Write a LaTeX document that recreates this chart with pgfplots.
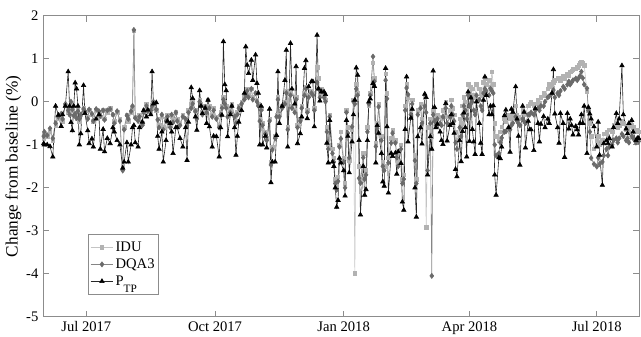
\documentclass[border=0pt]{standalone}
\usepackage{fontspec}
\setmainfont{Liberation Serif}
\usepackage{pgfplots}
\pgfplotsset{compat=1.18}
\usepackage{pgfplotstable}

\definecolor{idumark}{HTML}{B2B2B2}
\definecolor{iduline}{HTML}{C4C4C4}
\definecolor{dqamark}{HTML}{6A6A6A}
\definecolor{dqaline}{HTML}{858585}
\definecolor{axcol}{HTML}{8C8C8C}

\newcommand\tickfont{\fontsize{11}{13}\selectfont}
\newcommand\labfont{\fontsize{13}{15}\selectfont}

% day = days since 1 Jul 2017; values are changes from baseline in %
\pgfplotstableread{
day ptp idu dqa
-30.5 -0.97 -0.85 -0.80
-30 -1.00 -0.75 -0.70
-28 -1.00 -0.80 -0.78
-26 -1.04 -0.70 -0.62
-24 -1.28 -0.90 -0.85
-22 -0.10 -0.55 -0.50
-20 -0.31 -0.40 -0.35
-18 -0.57 -0.30 -0.28
-17 -0.30 -0.45 -0.40
-15 -0.10 -0.10 -0.05
-13 0.70 -0.25 -0.20
-12 -0.10 -0.30 -0.30
-11 -0.48 -0.05 0.00
-10 -0.67 -0.20 -0.18
-9 -0.10 -0.35 -0.32
-8 0.44 -0.30 -0.28
-7 0.30 -0.40 -0.38
-6 -0.10 -0.20 -0.22
-5 -1.00 -0.45 -0.40
-4 -0.74 -0.30 -0.30
-2 0.38 -0.15 -0.17
-1 -0.27 -0.25 -0.22
1 -0.67 -0.35 -0.40
2 -0.97 -0.20 -0.18
4 -0.86 -0.30 -0.28
5 -1.05 -0.45 -0.45
7 -0.40 -0.20 -0.17
9 -0.30 -0.25 -0.22
10 -1.10 -0.35 -0.33
12 -0.64 -0.20 -0.20
13 -1.16 -0.40 -0.42
15 -0.85 -0.25 -0.20
17 -0.97 -0.15 -0.17
19 -0.60 -0.30 -0.30
20 -0.70 -0.45 -0.50
22 -0.90 -0.25 -0.22
24 -1.00 -0.40 -0.45
26 -1.54 -1.50 -1.60
27 -1.40 -0.60 -0.65
29 -0.95 -0.30 -0.32
30 -1.40 -0.45 -0.40
32 -1.00 -0.25 -0.22
33 -0.60 -0.15 -0.10
34 -0.55 1.65 1.67
35 -0.95 -0.35 -0.38
37 -1.05 -0.40 -0.45
38 -0.60 -0.30 -0.35
40 -0.47 -0.50 -0.55
41 -0.20 -0.20 -0.25
43 -0.35 -0.05 -0.10
44 -0.19 -0.20 -0.22
46 -0.30 -0.25 -0.20
47 0.70 -0.15 -0.10
48 -0.05 -0.05 0.00
50 -0.02 -0.20 -0.18
51 -0.80 -0.40 -0.42
52 -1.10 -0.55 -0.60
54 -0.70 -0.35 -0.30
55 -1.40 -0.60 -0.65
57 -0.90 -0.40 -0.45
58 -0.45 -0.30 -0.35
60 -0.50 -0.55 -0.60
61 -0.70 -0.35 -0.30
62 -1.20 -0.45 -0.48
64 -0.60 -0.25 -0.25
65 -0.60 -0.40 -0.45
67 -0.85 -0.50 -0.55
69 -1.05 -0.30 -0.35
71 -0.60 -0.45 -0.40
72 -1.36 -0.50 -0.55
73 -0.47 -0.20 -0.25
75 0.33 -0.10 -0.15
76 0.08 0.00 -0.05
78 -0.35 -0.20 -0.22
79 -0.66 -0.35 -0.40
81 0.26 0.05 0.00
82 -0.10 -0.05 -0.10
83 -0.27 -0.25 -0.30
85 -0.15 -0.10 -0.12
86 -0.50 -0.20 -0.25
87 0.04 0.05 0.02
88 -0.58 -0.10 -0.15
90 -1.05 -0.30 -0.35
91 -0.80 -0.15 -0.20
93 -0.81 -0.35 -0.40
95 -1.28 -0.55 -0.60
96 -0.60 -0.25 -0.30
97 -0.31 -0.10 -0.15
98 1.40 0.10 0.05
99 0.40 0.00 -0.05
100 0.26 -0.10 -0.15
101 -0.81 -0.30 -0.35
103 -0.30 -0.20 -0.25
104 -0.10 -0.05 -0.10
106 -0.60 -0.30 -0.35
107 -1.24 -0.45 -0.50
108 -0.80 -0.25 -0.30
109 -0.47 -0.10 -0.15
111 -0.20 0.00 -0.05
113 0.20 0.10 0.05
114 1.28 0.20 0.15
115 0.85 0.30 0.25
116 0.66 0.15 0.10
118 0.97 0.30 0.30
119 0.50 0.10 0.05
121 1.09 0.20 0.20
122 0.43 0.05 0.00
123 0.20 -0.05 -0.10
124 -1.00 -0.40 -0.45
125 -0.10 -0.15 -0.20
126 -1.00 -0.50 -0.55
128 -0.80 -0.70 -0.75
129 -1.07 -0.85 -0.90
131 -0.17 -0.40 -0.45
132 -1.88 -1.40 -1.47
133 -1.40 -1.05 -1.12
135 -1.40 -0.80 -0.85
136 -0.78 -0.30 -0.35
137 0.70 0.10 0.05
138 -0.50 -0.30 -0.35
140 -0.10 -0.10 -0.15
142 0.50 0.00 -0.05
143 1.20 0.25 0.20
144 -1.05 -0.60 -0.65
146 1.36 0.20 0.15
147 0.30 -0.10 -0.15
149 -0.05 -0.20 -0.25
150 0.82 0.10 0.05
151 -0.97 -0.55 -0.60
153 -0.74 -0.40 -0.45
154 -0.35 -0.10 -0.15
156 0.78 0.20 0.15
157 0.96 0.35 0.30
158 -0.39 -0.20 -0.25
159 0.35 0.15 0.10
161 0.47 0.25 0.20
162 0.47 0.20 0.15
163 -0.58 -0.15 -0.20
165 1.55 0.80 0.45
166 0.30 0.55 0.30
167 0.02 0.20 0.10
168 0.23 0.30 0.25
170 0.23 0.15 0.10
171 0.17 0.05 0.00
172 -0.96 -0.60 -0.70
173 -1.42 -1.00 -1.10
174 -0.43 -0.30 -0.35
176 -1.40 -1.10 -1.20
177 -1.50 -1.30 -1.40
178 -2.00 -1.80 -1.90
179 -2.45 -1.95 -2.05
180 -2.29 -1.75 -1.85
181 -1.31 -1.00 -1.05
182 -1.42 -0.70 -0.86
184 -1.60 -1.30 -1.40
185 -2.19 -1.90 -2.00
186 -0.43 -0.20 -0.25
187 -0.80 -0.60 -0.73
188 -1.65 -1.36 -1.30
190 -0.93 -0.65 -0.58
191 -0.30 0.05 0.00
192 0.04 -3.99 -0.05
193 0.79 0.40 0.30
194 0.62 0.20 0.15
195 -0.90 -1.50 -1.78
196 -2.63 -1.80 -1.89
198 -1.50 -1.20 -1.30
199 -2.17 -1.70 -1.80
200 -2.04 -1.60 -1.70
201 -0.90 -0.60 -0.70
202 0.00 -0.10 -0.05
203 0.07 0.20 0.15
205 0.43 0.90 1.05
206 0.36 0.55 0.47
207 -1.42 -0.95 -1.04
208 -0.55 -0.50 -0.62
209 -0.73 -0.05 -0.12
211 -1.20 -0.80 -0.90
212 -1.86 -1.40 -1.50
213 -1.96 -1.50 -1.60
214 0.78 0.65 0.50
215 -0.58 0.20 0.07
216 -2.12 -1.30 -1.42
218 -1.20 -0.85 -0.96
219 -1.27 -0.65 -0.73
221 -1.19 -0.90 -0.96
222 -1.68 -1.20 -1.30
223 -1.16 -1.40 -1.50
225 -1.43 -1.00 -1.10
226 -2.33 -1.80 -1.90
227 -2.52 -1.70 -1.80
228 -0.64 -0.10 -0.20
229 0.58 0.40 0.32
230 -0.93 0.10 0.17
232 -0.38 -0.20 -0.30
233 -0.17 0.05 -0.05
235 -2.00 -1.25 -1.37
236 -2.68 -1.80 -1.90
237 -0.81 -0.20 -0.30
239 -0.60 -0.05 -0.15
240 -0.98 -0.40 -0.50
242 0.18 0.10 -0.10
243 0.10 -2.92 -0.25
244 -1.70 -0.60 -1.60
246 -0.81 -0.40 -0.50
247 -1.10 -0.80 -4.05
248 0.72 -0.20 -0.30
249 -0.13 -0.30 -0.45
250 -0.60 -0.40 -0.55
251 -0.52 -0.30 -0.40
253 -0.70 -0.35 -0.50
254 -0.90 -0.40 -0.55
255 -0.99 -0.20 -0.35
257 -0.04 0.00 -0.15
258 -0.91 -0.35 -0.50
260 -0.55 -0.20 -0.35
261 -0.30 0.05 -0.10
262 -0.50 -0.15 -0.30
263 -0.73 -0.30 -0.45
264 -1.57 -0.70 -0.95
265 -1.74 -0.90 -1.10
267 -0.90 -0.40 -0.60
268 -1.39 -0.50 -0.80
269 -0.69 -0.10 -0.30
270 -0.26 0.10 -0.10
271 -0.60 0.00 -0.20
272 -1.28 -0.20 -0.40
273 0.23 0.40 0.15
274 -0.92 0.20 -0.10
275 0.09 0.35 0.10
276 -0.64 0.30 0.00
277 -0.93 0.15 -0.20
278 -1.22 0.10 -0.30
279 0.00 0.40 0.15
281 -0.50 0.30 0.05
282 -0.96 0.20 -0.10
283 -1.22 0.15 -0.20
284 0.04 0.45 0.20
285 0.58 0.55 0.30
286 0.15 0.40 0.25
288 -0.30 0.50 0.15
289 -0.10 0.35 0.30
290 -0.30 0.70 0.25
291 -0.09 0.40 0.20
292 -1.70 -0.50 -1.00
293 -2.17 -0.80 -1.25
295 -1.30 -0.90 -1.20
296 -1.32 -0.70 -0.95
297 -1.05 -0.58 -0.84
299 -0.32 -0.40 -0.70
300 -0.19 -0.47 -0.69
302 -0.60 -0.30 -0.60
303 -1.17 -0.40 -0.65
304 -0.17 -0.36 -0.55
305 -0.24 -0.30 -0.50
307 0.35 -0.10 -0.35
308 -0.40 -0.30 -0.45
309 -0.80 -0.36 -0.50
310 -1.47 -0.40 -0.55
312 -0.10 -0.20 -0.40
313 -0.24 -0.25 -0.45
314 -1.07 -0.30 -0.50
316 -0.45 -0.10 -0.30
317 -0.65 -0.05 -0.30
318 -0.65 0.00 -0.25
320 -1.13 -0.10 -0.30
321 -0.16 -0.05 -0.20
323 -0.50 0.05 -0.15
324 -0.93 -0.04 -0.20
325 -0.52 0.10 -0.10
327 -0.34 0.20 -0.10
328 -0.60 0.15 0.00
330 -0.40 0.30 0.10
331 -0.50 0.40 0.13
333 0.20 0.35 0.20
334 0.75 0.45 0.27
335 -0.28 0.50 0.10
337 -0.60 0.55 0.20
338 -0.96 0.54 0.15
339 -0.27 0.50 0.25
341 -0.50 0.60 0.35
342 -1.29 0.55 0.30
344 -0.27 0.65 0.40
345 -0.63 0.60 0.47
346 -0.40 0.70 0.40
347 -0.55 0.72 0.45
348 -0.77 0.75 0.50
350 -0.57 0.77 0.54
351 -0.65 0.80 0.50
352 -0.77 0.85 0.55
353 -0.50 0.90 0.60
354 -0.30 0.93 0.70
355 -0.50 0.89 0.55
356 -0.10 0.85 0.40
358 -1.20 0.23 0.31
359 -0.13 -0.20 -0.20
360 -0.28 -0.50 -0.70
361 -0.40 -0.80 -1.31
363 -0.58 -1.10 -1.45
365 -1.05 -0.90 -1.51
366 -0.47 -0.80 -1.30
367 -1.24 -1.00 -1.45
369 -1.94 -0.90 -1.40
370 -0.97 -0.75 -1.25
372 -0.90 -0.70 -1.10
373 -0.97 -0.80 -1.25
374 -0.85 -0.65 -1.05
376 -1.05 -0.70 -1.00
377 -0.60 -0.55 -0.90
379 -0.27 -0.50 -0.85
380 -0.50 -0.60 -0.95
381 -0.40 -0.55 -0.85
383 0.84 -0.45 -0.75
384 -0.30 -0.50 -0.80
386 -0.63 -0.65 -0.90
387 -0.74 -0.60 -0.85
388 -0.50 -0.70 -0.95
390 -0.43 -0.55 -0.80
391 -0.70 -0.60 -0.85
393 -0.90 -0.70 -0.95
394 -0.85 -0.65 -0.90
395 -0.85 -0.70 -0.92
}\qadata

\begin{document}
\begin{tikzpicture}
\begin{axis}[
  scale only axis,
  width=447bp, height=225.75bp,
  xmin=-31, xmax=395.2,
  ymin=-5, ymax=2,
  xtick={0,92,184,274,365},
  xticklabels={Jul 2017,Oct 2017,Jan 2018,Apr 2018,Jul 2018},
  ytick={-5,-4,-3,-2,-1,0,1,2},
  yticklabels={-5,-4,-3,-2,-1,0,1,2},
  tick align=inside,
  major tick length=4.5bp,
  axis line style={axcol, line width=0.5bp},
  every tick/.style={axcol, line width=0.5bp},
  tick label style={font=\tickfont, black},
  ylabel={Change from baseline (\%)},
  ylabel style={font=\labfont, at={(ticklabel cs:0.5)}, anchor=south, inner sep=0pt},
  legend style={at={(rel axis cs:0.0755,0.073)}, anchor=south west,
    draw=axcol, line width=0.5bp, fill=white, font=\tickfont,
    inner xsep=1.5bp, inner ysep=4bp, nodes={inner sep=1.5bp},
    row sep=1bp},
  legend cell align=left,
]
\addplot[color=iduline, line width=0.45bp, mark=square*, mark size=1.3bp,
  mark options={draw=idumark, fill=idumark}]
  table[x=day, y=idu] {\qadata};
\addlegendentry{IDU}
\addplot[color=dqaline, line width=0.45bp, mark=diamond*, mark size=1.9bp,
  mark options={draw=dqamark, fill=dqamark}]
  table[x=day, y=dqa] {\qadata};
\addlegendentry{DQA3}
\addplot[color=black!85, line width=0.45bp, mark=triangle*, mark size=1.9bp,
  mark options={draw=black, fill=black}]
  table[x=day, y=ptp] {\qadata};
\addlegendentry{P\raisebox{-5.5bp}{\fontsize{8.5}{9}\selectfont TP}}
\end{axis}
\pgfresetboundingbox
\path ([xshift=-32.25bp, yshift=-15bp]current axis.south west)
  rectangle ([xshift=1.5bp, yshift=11.8bp]current axis.north east);
\end{tikzpicture}
\end{document}
